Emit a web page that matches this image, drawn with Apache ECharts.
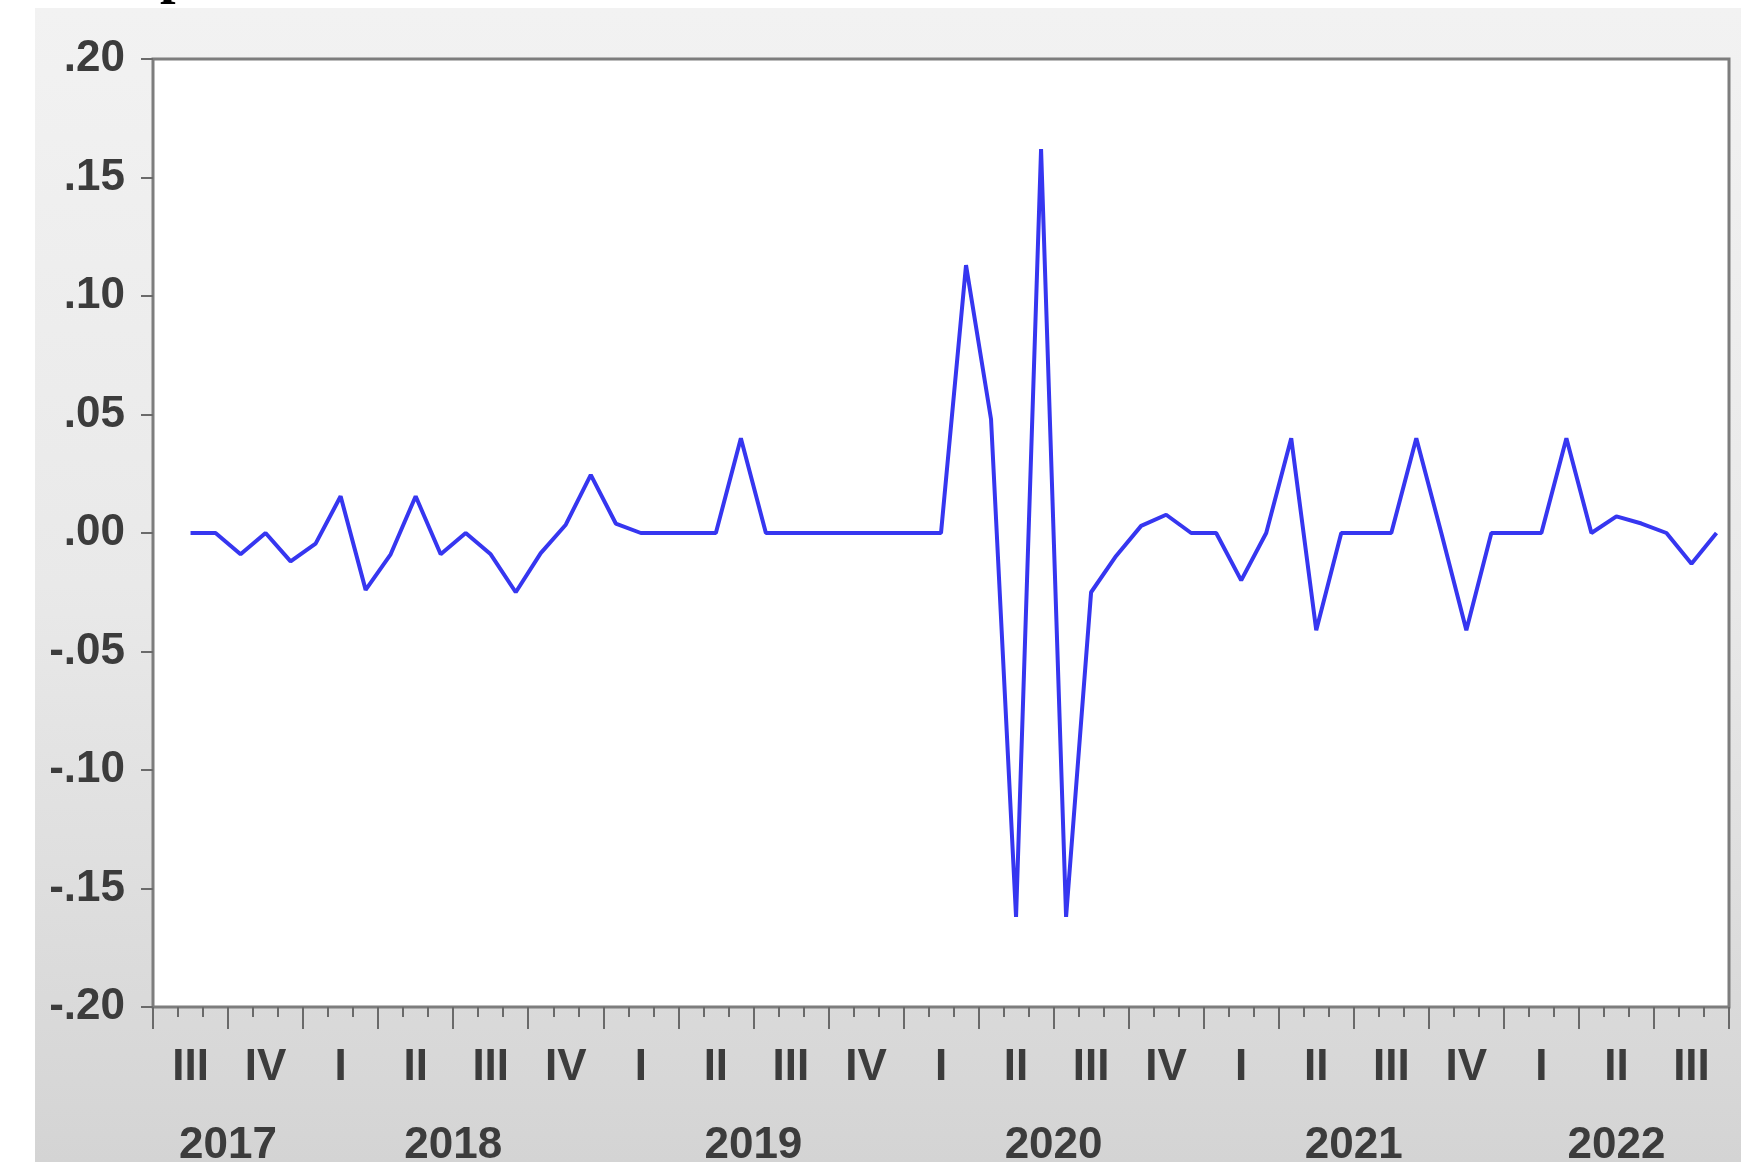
<!DOCTYPE html>
<html>
<head>
<meta charset="utf-8">
<script src="https://cdn.jsdelivr.net/npm/echarts@6.0.0/dist/echarts.min.js"></script>
<style>
html,body{margin:0;padding:0;background:#ffffff;}
#c{width:1741px;height:1162px;}
</style>
</head>
<body>
<div id="c"></div>
<script>
// Monthly categories, Jul 2017 .. Sep 2022
const months = [
 'Jul 2017','Aug 2017','Sep 2017','Oct 2017','Nov 2017','Dec 2017',
 'Jan 2018','Feb 2018','Mar 2018','Apr 2018','May 2018','Jun 2018','Jul 2018','Aug 2018','Sep 2018','Oct 2018','Nov 2018','Dec 2018',
 'Jan 2019','Feb 2019','Mar 2019','Apr 2019','May 2019','Jun 2019','Jul 2019','Aug 2019','Sep 2019','Oct 2019','Nov 2019','Dec 2019',
 'Jan 2020','Feb 2020','Mar 2020','Apr 2020','May 2020','Jun 2020','Jul 2020','Aug 2020','Sep 2020','Oct 2020','Nov 2020','Dec 2020',
 'Jan 2021','Feb 2021','Mar 2021','Apr 2021','May 2021','Jun 2021','Jul 2021','Aug 2021','Sep 2021','Oct 2021','Nov 2021','Dec 2021',
 'Jan 2022','Feb 2022','Mar 2022','Apr 2022','May 2022','Jun 2022','Jul 2022','Aug 2022','Sep 2022'
];
// Series values (first month missing)
const values = [
 null, 0, 0, -0.009, 0, -0.012,
 -0.0045, 0.0155, -0.024, -0.009, 0.0155, -0.009, 0, -0.009, -0.025, -0.0085, 0.0035, 0.0245,
 0.004, 0, 0, 0, 0, 0.040, 0, 0, 0, 0, 0, 0,
 0, 0, 0.113, 0.048, -0.162, 0.162, -0.162, -0.025, -0.0097, 0.003, 0.0077, 0,
 0, -0.020, 0, 0.040, -0.041, 0, 0, 0, 0.040, 0, -0.041, 0,
 0, 0, 0.040, 0, 0.007, 0.004, 0, -0.013, 0
];
// Quarter labels along the axis
const quarterLabels = ['III','IV','I','II','III','IV','I','II','III','IV','I','II','III','IV','I','II','III','IV','I','II','III'];
// Year labels
const yearLabels = ['2017','2018','2019','2020','2021','2022'];
// Y axis ticks
const yMin = -0.20, yMax = 0.20, yStep = 0.05;

// year centers (in month units) derived from the categories
const yearCenters = yearLabels.map(function (y) {
  let first = -1, last = -1;
  months.forEach(function (m, i) { if (m.slice(-4) === y) { if (first < 0) first = i; last = i; } });
  return (first + last + 1) / 2;
});

const labelColor = '#3c3c3c';
const labelFont = '"Liberation Sans", Arial, sans-serif';
const chart = echarts.init(document.getElementById('c'), null, {renderer: 'canvas'});
chart.setOption({
  animation: false,
  backgroundColor: 'transparent',
  graphic: [
    {
      type: 'rect', z: -10, silent: true,
      shape: {x: 35, y: 8, width: 1741 - 35, height: 1162 - 8},
      style: {
        fill: new echarts.graphic.LinearGradient(0, 0, 0, 1, [
          {offset: 0, color: '#f2f2f2'},
          {offset: 0.5, color: '#e9e9e9'},
          {offset: 1, color: '#d4d4d4'}
        ])
      }
    },
    {
      type: 'text', z: 10, silent: true,
      style: {
        x: 160, y: -22, text: 'p',
        font: 'bold 56px "Liberation Serif", serif',
        fill: '#000', verticalAlign: 'middle', align: 'left'
      }
    }
  ],
  grid: {
    left: 153, top: 59, width: 1576, height: 948,
    containLabel: false, outerBoundsMode: 'none',
    show: true, backgroundColor: '#ffffff', borderColor: '#7d7d7d', borderWidth: 3
  },
  xAxis: [
    {
      type: 'category', data: months, boundaryGap: true, position: 'bottom',
      axisLine: {show: false, onZero: false},
      axisTick: {show: true, interval: 0, length: 10, lineStyle: {color: '#6a6a6a', width: 2}},
      axisLabel: {show: false},
      splitLine: {show: false}
    },
    {
      type: 'category', data: quarterLabels, boundaryGap: true, position: 'bottom',
      axisLine: {show: false, onZero: false},
      axisTick: {show: true, interval: 0, length: 22, lineStyle: {color: '#6a6a6a', width: 2}},
      axisLabel: {show: true, interval: 0, margin: 39, fontSize: 44, fontWeight: 'bold',
        fontFamily: labelFont, color: labelColor},
      splitLine: {show: false}
    },
    {
      type: 'value', min: 0, max: months.length, interval: 1.5, position: 'bottom',
      axisLine: {show: false, onZero: false}, axisTick: {show: false}, splitLine: {show: false},
      axisLabel: {
        show: true, margin: 117, fontSize: 44, fontWeight: 'bold',
        fontFamily: labelFont, color: labelColor,
        formatter: function (v) {
          for (let k = 0; k < yearCenters.length; k++) {
            if (Math.abs(yearCenters[k] - v) < 0.01) return yearLabels[k];
          }
          return '';
        }
      }
    }
  ],
  yAxis: {
    type: 'value', min: yMin, max: yMax, interval: yStep,
    axisLine: {show: false, onZero: false},
    axisTick: {show: true, length: 12, lineStyle: {color: '#6a6a6a', width: 2}},
    splitLine: {show: false},
    axisLabel: {
      margin: 28, fontSize: 44, fontWeight: 'bold',
      fontFamily: labelFont, color: labelColor,
      formatter: function (v) {
        const s = Math.abs(v).toFixed(2).replace(/^0/, '');
        return (v < -1e-9 ? '-' : '') + s;
      }
    }
  },
  series: [{
    type: 'line', xAxisIndex: 0, data: values,
    symbol: 'none', connectNulls: false,
    lineStyle: {color: '#3636f0', width: 4},
    z: 5
  }]
});
</script>
</body>
</html>
